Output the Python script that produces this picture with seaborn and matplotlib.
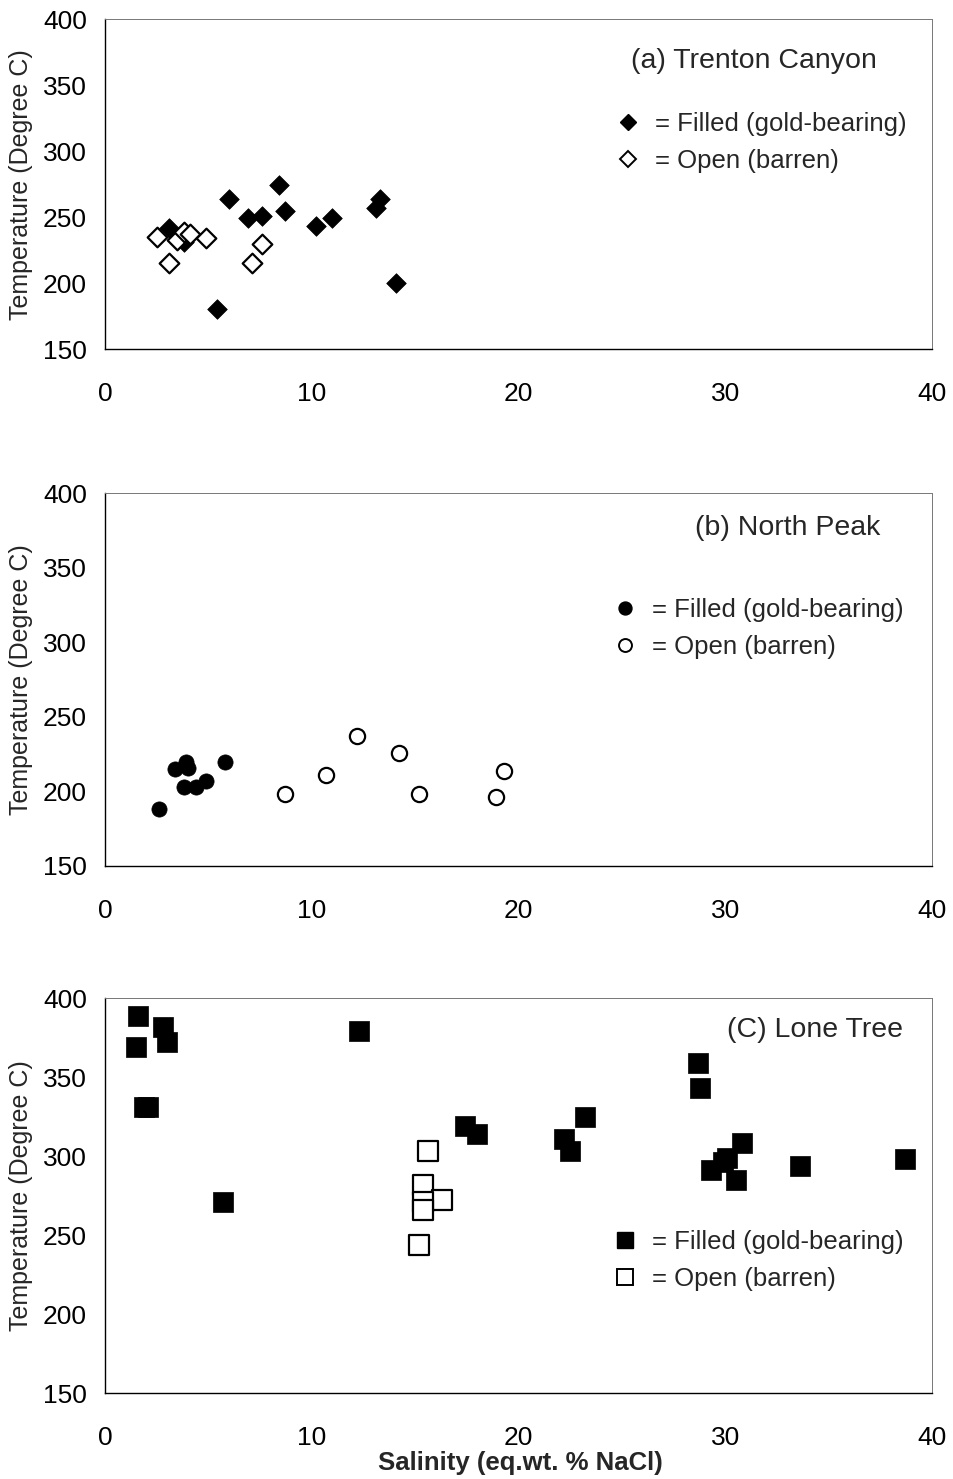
import numpy as np
import pandas as pd
import matplotlib
matplotlib.use("Agg")
import matplotlib.pyplot as plt
from matplotlib.lines import Line2D
import seaborn as sns

# (a) Trenton Canyon
tc_filled_sal = [3.1, 3.8, 5.4, 6.0, 6.9, 7.6, 8.4, 8.7, 10.2, 11.0, 13.1, 13.3, 14.1]
tc_filled_temp = [242, 231, 180, 264, 249, 251, 274, 255, 243, 249, 257, 264, 200]
tc_open_sal = [2.5, 3.1, 3.5, 3.8, 4.1, 4.9, 7.1, 7.6]
tc_open_temp = [235, 215, 233, 239, 237, 234, 215, 230]

# (b) North Peak
np_filled_sal = [2.6, 3.4, 3.9, 4.0, 3.8, 4.4, 4.9, 5.8]
np_filled_temp = [188, 215, 220, 216, 203, 203, 207, 220]
np_open_sal = [8.7, 10.7, 12.2, 14.2, 15.2, 18.9, 19.3]
np_open_temp = [198, 211, 237, 226, 198, 196, 214]

# (C) Lone Tree
lt_filled_sal = [1.5, 1.6, 2.8, 3.0, 1.9, 2.1, 5.7, 12.3, 17.4, 18.0, 22.2, 22.5, 23.2,
                 28.7, 28.8, 29.3, 29.9, 30.1, 30.5, 30.8, 33.6, 38.7]
lt_filled_temp = [369, 389, 382, 372, 331, 331, 271, 379, 319, 314, 311, 303, 325,
                  359, 343, 291, 296, 299, 285, 308, 294, 298]
lt_open_sal = [15.6, 15.4, 16.3, 15.4, 15.4, 15.2]
lt_open_temp = [303, 282, 272, 271, 266, 244]

xticks = [0, 10, 20, 30, 40]
yticks = [150, 200, 250, 300, 350, 400]
titles = ["(a) Trenton Canyon", "(b) North Peak", "(C) Lone Tree"]
legend_labels = ["= Filled (gold-bearing)", "= Open (barren)"]

sns.set_style("white")
plt.rcParams["font.family"] = ["Liberation Sans", "DejaVu Sans"]

fig = plt.figure(figsize=(9.54, 14.79), dpi=100)
boxes = [[0.110, 0.764, 0.867, 0.223],
         [0.110, 0.4145, 0.867, 0.252],
         [0.110, 0.0581, 0.867, 0.267]]
panels = [
    (tc_filled_sal, tc_filled_temp, tc_open_sal, tc_open_temp, "D", 100),
    (np_filled_sal, np_filled_temp, np_open_sal, np_open_temp, "o", 120),
    (lt_filled_sal, lt_filled_temp, lt_open_sal, lt_open_temp, "s", 190),
]
title_pos = [(0.785, 0.873), (0.825, 0.906), (0.859, 0.919)]
leg_pos = [(0.617, 0.718), (0.613, 0.718), (0.613, 0.413)]

for i, (fx, fy, ox, oy, mk, ms) in enumerate(panels):
    ax = fig.add_axes(boxes[i])
    sns.scatterplot(x=fx, y=fy, ax=ax, marker=mk, s=ms, color="black",
                    edgecolor="black", linewidth=0.5, zorder=3)
    sns.scatterplot(x=ox, y=oy, ax=ax, marker=mk, s=ms, facecolor="white",
                    edgecolor="black", linewidth=1.6, zorder=3)
    ax.set_xlim(0, 40)
    ax.set_ylim(150, 400)
    ax.set_xticks(xticks)
    ax.set_yticks(yticks)
    ax.tick_params(axis="both", direction="inout", length=8, width=0.8,
                   labelsize=19, colors="black")
    ax.tick_params(axis="x", pad=20)
    ax.tick_params(axis="y", pad=9)
    for side in ["left", "bottom"]:
        ax.spines[side].set_color("black")
        ax.spines[side].set_linewidth(1.0)
    for side in ["top", "right"]:
        ax.spines[side].set_color("#777777")
        ax.spines[side].set_linewidth(0.7)
        ax.spines[side].set_linestyle((0, (1, 1)))
    ax.set_ylabel("Temperature (Degree C)", fontsize=18)
    ax.yaxis.set_label_coords(-0.087, 0.5)
    ax.set_xlabel("")
    ax.text(title_pos[i][0], title_pos[i][1], titles[i], transform=ax.transAxes,
            ha="center", va="center", fontsize=20.5)
    handles = [
        Line2D([], [], linestyle="none", marker=mk, markersize=np.sqrt(ms) * 0.85,
               markerfacecolor="black", markeredgecolor="black"),
        Line2D([], [], linestyle="none", marker=mk, markersize=np.sqrt(ms) * 0.85,
               markerfacecolor="white", markeredgecolor="black", markeredgewidth=1.4),
    ]
    ax.legend(handles, legend_labels, loc="upper left", bbox_to_anchor=leg_pos[i],
              frameon=False, fontsize=18.5, handlelength=1.0, handletextpad=0.55,
              labelspacing=0.5, borderpad=0, borderaxespad=0)

ax.set_xlabel("Salinity (eq.wt. % NaCl)", fontsize=18.5, fontweight="bold")
ax.xaxis.set_label_coords(0.502, -0.147)

fig.savefig("out.png", dpi=100)
